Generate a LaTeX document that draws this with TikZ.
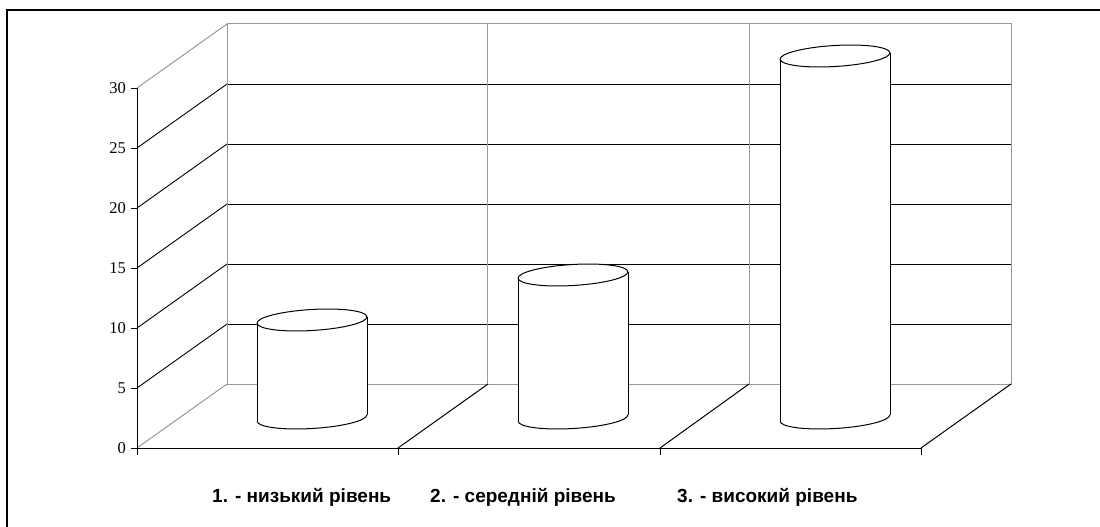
\documentclass[tikz,border=0pt]{standalone}
\usepackage{fontspec}
\setmainfont{Liberation Serif}
\newfontfamily\lblfont{Liberation Sans}
\usetikzlibrary{calc}
\begin{document}
\begin{tikzpicture}[x=1pt,y=-1pt,
  gridline/.style={black,line width=0.9pt},
  wallline/.style={gray!80,line width=1pt},
  axisline/.style={black,line width=1pt},
  cyl/.style={black,line width=1pt,fill=white},
  ticklbl/.style={anchor=east,inner sep=0pt,font=\fontsize{16.5}{16}\selectfont},
  catlbl/.style={anchor=west,inner sep=0pt,font=\lblfont\bfseries\fontsize{19}{20}\selectfont}]
\useasboundingbox (0,0) rectangle (1100,527);
% outer frame (top and left only)
\draw[black,line width=1.5pt] (7,527) -- (7,10) -- (1100,10);
% back wall gridlines
\foreach \k in {1,...,5} {
  \draw[gridline] (227,{384-60*\k}) -- (1011,{384-60*\k});
  \draw[gridline] (137,{448-60*\k}) -- (227,{384-60*\k});
}
% back wall frame and verticals
\draw[wallline] (227,384) rectangle (1011,24);
\draw[wallline] (487,24) -- (487,384);
\draw[wallline] (749,24) -- (749,384);
% left wall edges
\draw[wallline] (137,88) -- (227,24);
\draw[wallline] (137,448) -- (227,384);
% floor
\coordinate (f0) at (137,448);
\coordinate (f1) at (398,448);
\coordinate (f2) at (660,448);
\coordinate (f3) at (921,448);
\coordinate (b1) at (488,384);
\coordinate (b2) at (749,384);
\coordinate (b3) at (1011,384);
\draw[axisline] (f1) -- (b1);
\draw[axisline] (f2) -- (b2);
\draw[axisline] (f3) -- (b3);
\draw[axisline] (f0) -- (f3);
% y axis
\draw[axisline] (137,88) -- (137,448);
\foreach \k in {0,...,6} {
  \draw[axisline] (131,{448-60*\k}) -- (137,{448-60*\k});
  \pgfmathtruncatemacro{\v}{5*\k}
  \node[ticklbl] (t\k) at (126,{448-60*\k}) {\v};
}
% x ticks
\foreach \c in {f0,f1,f2,f3} { \draw[axisline] (\c) -- ++(0,7); }
% cylinders
\foreach \cx/\ty/\n in {312/320/1, 573/275/2, 835/56/3} {
  \coordinate (top\n) at (\cx,\ty);
  \coordinate (bot\n) at (\cx,418);
  \fill[white] ($(\cx,\ty)+(-55,3)$) -- ($(\cx,418)+(-55,3)$) -- ($(\cx,418)+(55,-3)$) -- ($(\cx,\ty)+(55,-3)$) -- cycle;
  \draw[cyl,rotate around={3.4:(bot\n)}] ($(bot\n)+(-55,0)$) arc[start angle=180,end angle=360,x radius=55pt,y radius=10.5pt];
  \draw[cyl] ($(\cx,\ty)+(-55,3.3)$) -- ($(\cx,418)+(-55,3.3)$);
  \draw[cyl] ($(\cx,\ty)+(55,-3.3)$) -- ($(\cx,418)+(55,-3.3)$);
  \draw[cyl,rotate around={3.4:(top\n)}] (top\n) ellipse[x radius=55pt,y radius=10.5pt];
}
% category labels
\node[catlbl] (c1) at (212,497) {1. - низький рівень};
\node[catlbl] (c2) at (430,497) {2. - середній рівень};
\node[catlbl] (c3) at (677,497) {3. - високий рівень};
\end{tikzpicture}
\end{document}
